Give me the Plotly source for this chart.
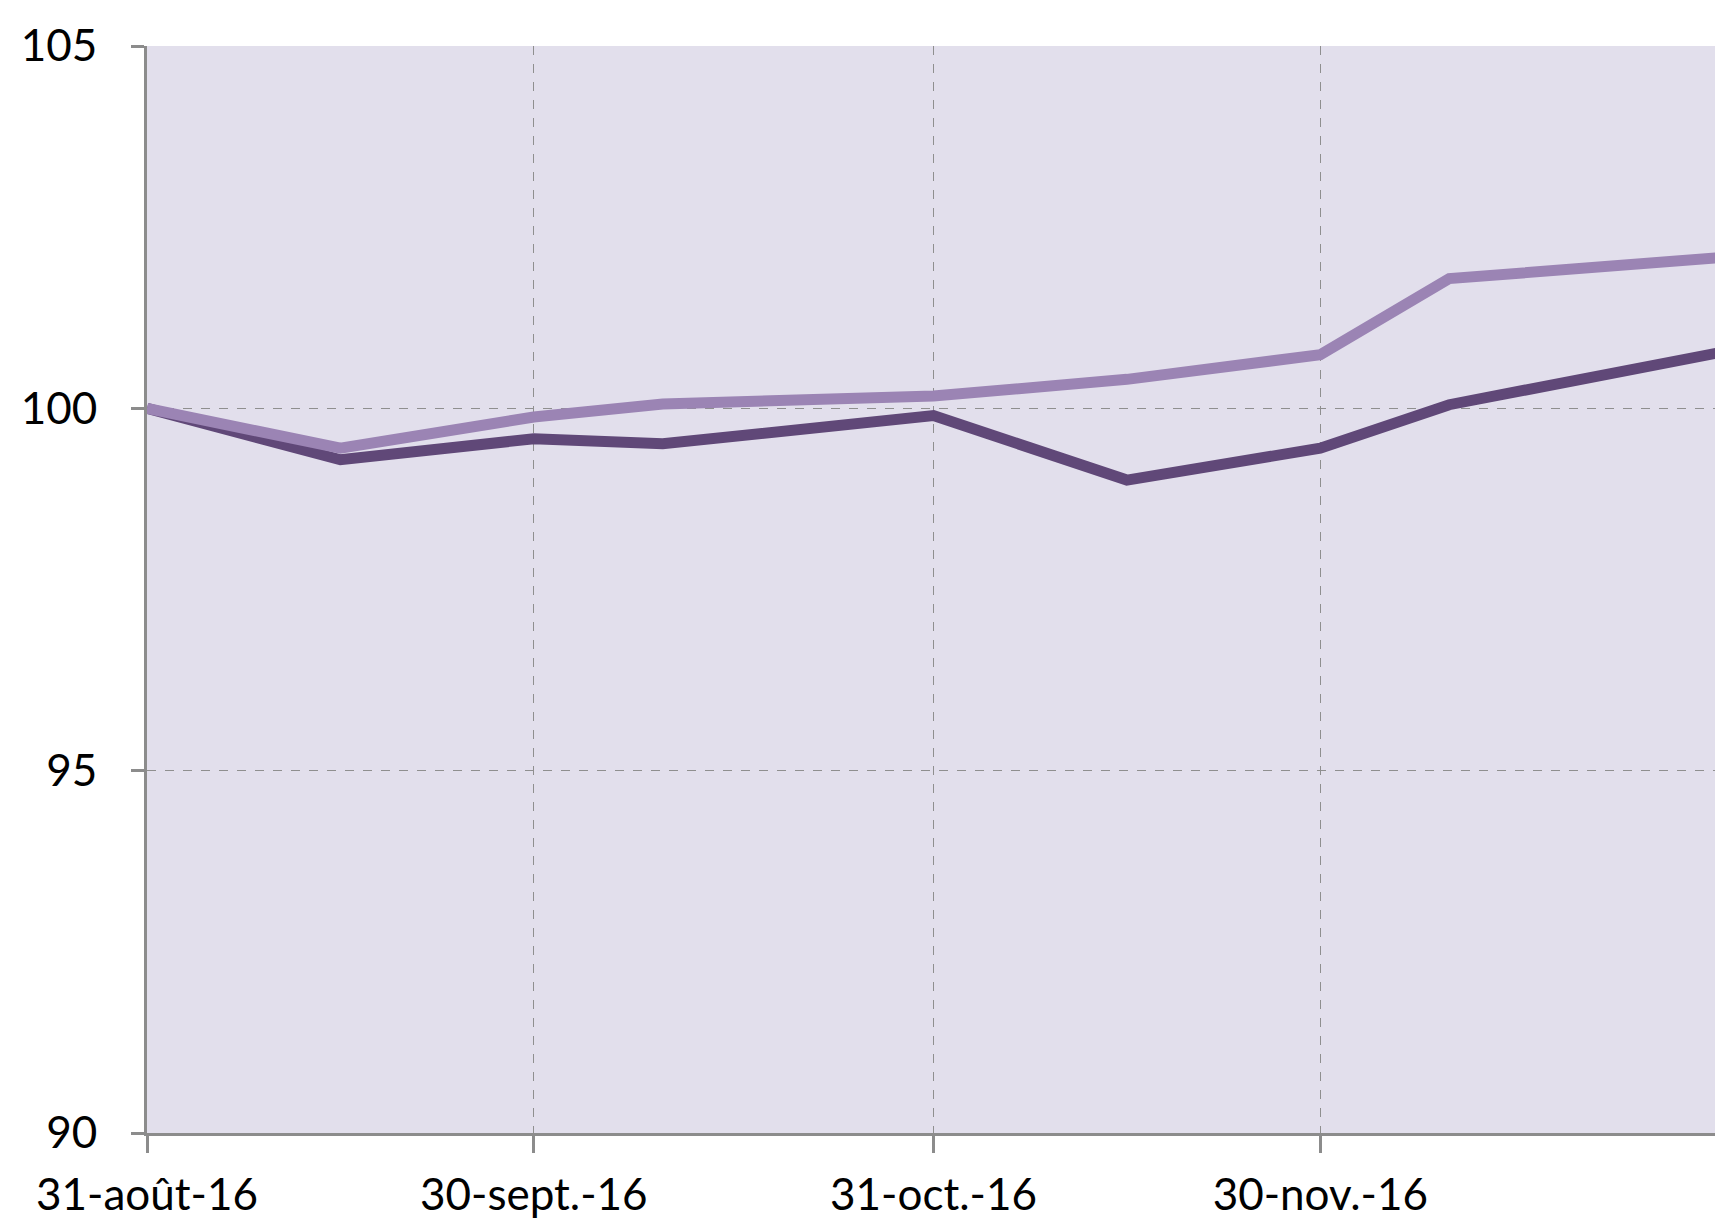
import plotly.graph_objects as go

dates = ["2016-08-31", "2016-09-15", "2016-09-30", "2016-10-10", "2016-10-31",
         "2016-11-15", "2016-11-30", "2016-12-10", "2016-12-31"]
series_light = [100.0, 99.45, 99.88, 100.06, 100.17, 100.40, 100.74, 101.79, 102.08]
series_dark = [100.0, 99.29, 99.58, 99.51, 99.90, 99.01, 99.45, 100.05, 100.77]

tick_dates = ["2016-08-31", "2016-09-30", "2016-10-31", "2016-11-30", "2016-12-31"]
tick_labels = ["31-août-16", "30-sept.-16", "31-oct.-16", "30-nov.-16", ""]
y_ticks = [90, 95, 100, 105]

fig = go.Figure()
fig.add_trace(go.Scatter(x=dates, y=series_dark, mode="lines",
                         line=dict(color="#604878", width=11), showlegend=False))
fig.add_trace(go.Scatter(x=dates, y=series_light, mode="lines",
                         line=dict(color="#9b84b4", width=11), showlegend=False))

font_family = "Lato, sans-serif"
fig.update_layout(
    width=1723, height=1221,
    margin=dict(l=139, r=11, t=38, b=96),
    paper_bgcolor="white", plot_bgcolor="#e2dfec",
    font=dict(family=font_family, size=44, color="black"),
    xaxis=dict(type="date", range=["2016-08-31", "2016-12-31"],
               tickvals=tick_dates, ticktext=tick_labels,
               showgrid=True, gridcolor="#8f8f8f", griddash="dash", gridwidth=1.3,
               showline=True, linecolor="#8c8c8c", linewidth=3,
               ticks="outside", ticklen=17, tickwidth=3, tickcolor="#8c8c8c",
               ticklabelstandoff=4, zeroline=False, automargin=False),
    yaxis=dict(range=[90, 105], tickvals=y_ticks,
               showgrid=True, gridcolor="#8f8f8f", griddash="dash", gridwidth=1.3,
               showline=True, linecolor="#8c8c8c", linewidth=3,
               ticks="outside", ticklen=13, tickwidth=3, tickcolor="#8c8c8c",
               ticklabelstandoff=25, zeroline=False, automargin=False),
)
fig.write_html("out.html")
